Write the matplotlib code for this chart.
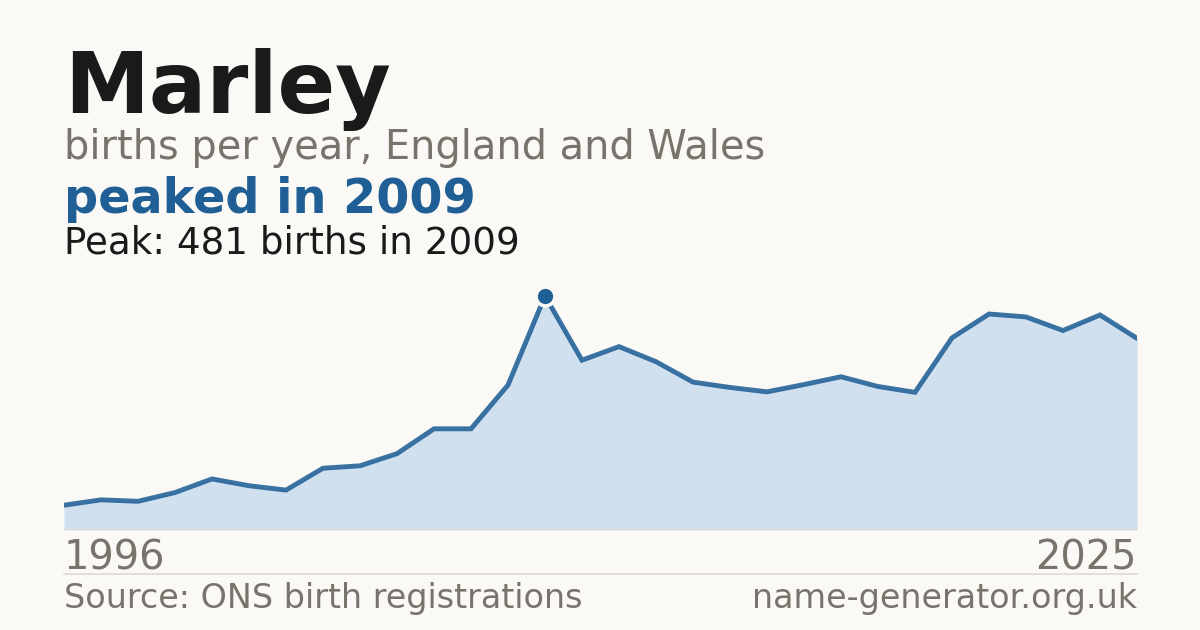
import matplotlib
matplotlib.use('Agg')
import matplotlib.pyplot as plt

plt.rcParams['font.family'] = ['DejaVu Sans']

# data
years = list(range(1996, 2026))
births = [51, 62, 59, 77, 105, 91, 82, 127, 132, 157,
          208, 208, 298, 481, 349, 377, 346, 304, 293, 284,
          299, 315, 295, 283, 395, 444, 438, 410, 442, 394]
name = 'Marley'
subtitle = 'births per year, England and Wales'
headline = 'peaked in 2009'
source = 'Source: ONS birth registrations'
site = 'name-generator.org.uk'

bg = '#faf9f5'
blue = '#1f5f96'
fill = '#d0e0ef'
grey = '#78736b'
dark = '#1a1a1a'
rule = '#dedad2'

W, H = 1200, 630
fig = plt.figure(figsize=(W / 100, H / 100), dpi=100, facecolor=bg)

# plot area in pixels: x 64..1137, y 296 (peak)..530 (zero)
left, right, top, bottom = 64, 1137, 296, 530
ax = fig.add_axes([left / W, 1 - bottom / H, (right - left) / W, (bottom - top) / H])
ax.set_facecolor('none')

peak_i = births.index(max(births))
ax.fill_between(years, births, 0, color=fill, lw=0)
ax.plot(years, births, color=blue, lw=3.5, solid_joinstyle='miter', alpha=0.88)
ax.plot(years[peak_i], births[peak_i], 'o', ms=13.5, mfc=blue, mec=bg, mew=2.5, clip_on=False, zorder=5)
ax.axhline(0, color=rule, lw=1.2)
ax.set_xlim(years[0], years[-1])
ax.set_ylim(0, max(births))
ax.axis('off')

def px(x, y):
    return x / W, 1 - y / H

fig.text(*px(64, 113), name, fontsize=61.4, fontweight='bold', color=dark, va='baseline')
fig.text(*px(64, 159), subtitle, fontsize=28.7, color=grey, va='baseline')
fig.text(*px(64, 213), headline, fontsize=34.4, fontweight='bold', color=blue, va='baseline')
fig.text(*px(64, 254), f'Peak: {births[peak_i]} births in {years[peak_i]}', fontsize=26.8, color=dark, va='baseline')

fig.text(*px(64, 569), str(years[0]), fontsize=28.7, color=grey, va='baseline')
fig.text(*px(1137, 569), str(years[-1]), fontsize=28.7, color=grey, va='baseline', ha='right')

fig.add_artist(plt.Line2D([left / W, right / W], [1 - 574 / H] * 2, color=rule, lw=1.2))

fig.text(*px(64, 608), source, fontsize=24, color=grey, va='baseline')
fig.text(*px(1137, 608), site, fontsize=24, color=grey, va='baseline', ha='right')

fig.savefig('out.png', dpi=100, facecolor=bg)
